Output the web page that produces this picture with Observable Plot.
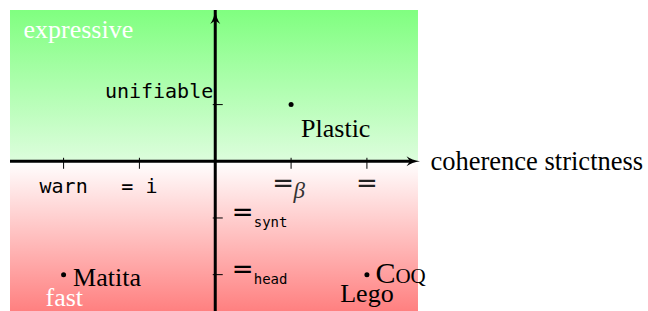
<!DOCTYPE html>
<html><head><meta charset="utf-8">
<script src="https://cdn.jsdelivr.net/npm/d3@7"></script>
<script src="https://cdn.jsdelivr.net/npm/@observablehq/plot@0.6"></script>
<style>body{margin:0;background:#fff}</style>
</head><body><div id="chart"></div>
<script>
// ---- data ----
const monoXTicks = [-2, -1];
const monoXLabels = ["warn", "= i"];
const eqXTicks = [1, 2];
const eqXSubs = ["β", ""];
const yTicks = [1, -1, -2];
const monoYTicks = [1];
const monoYLabels = ["unifiable"];
const eqYTicks = [-1, -2];
const eqYSubs = ["synt", "head"];
const systems = ["Plastic", "Matita", "Coq"];
const sysX = [1, -2, 2];
const sysY = [1, -2, -2];
const sysAlias = ["", "", "Lego"];
const regionLabels = ["expressive", "fast"];
const axisLabel = "coherence strictness";

const X_DOMAIN = [-2.7, 2.7];
const Y_DOMAIN = [-2.65, 2.66];
const xTicks = [...monoXTicks, ...eqXTicks];
const sysData = systems.map((name, i) => ({name, x: sysX[i], y: sysY[i], alias: sysAlias[i]}));
const eqX = eqXTicks.map((x, i) => ({x, sub: eqXSubs[i]}));
const eqY = eqYTicks.map((y, i) => ({y, sub: eqYSubs[i]}));

const stealth = {
  draw(ctx) {
    ctx.moveTo(0, 0);
    ctx.quadraticCurveTo(1.2, 8, 5, 13.5);
    ctx.lineTo(0, 10);
    ctx.lineTo(-5, 13.5);
    ctx.quadraticCurveTo(-1.2, 8, 0, 0);
    ctx.closePath();
  }
};

const SERIF = "Liberation Serif";
const MONO = "DejaVu Sans Mono";
const EQ = "DejaVu Sans";

const chart = Plot.plot({
  width: 648, height: 311, margin: 0,
  x: {domain: X_DOMAIN, range: [10, 419.5], axis: null},
  y: {domain: Y_DOMAIN, range: [311, 10], axis: null},
  style: {background: "white", overflow: "visible"},
  marks: [
    Plot.rect([0], {x1: X_DOMAIN[0], x2: X_DOMAIN[1] - 0.02, y1: 0, y2: Y_DOMAIN[1], fill: "url(#gGreen)"}),
    Plot.rect([0], {x1: X_DOMAIN[0], x2: X_DOMAIN[1] - 0.02, y1: Y_DOMAIN[0], y2: 0, fill: "url(#gRed)"}),
    // region labels
    Plot.text([regionLabels[0]], {x: X_DOMAIN[0], y: Y_DOMAIN[1], text: d => d, fill: "white", fontFamily: SERIF, fontSize: 26, textAnchor: "start", lineAnchor: "bottom", dx: 13, dy: 27}),
    Plot.text([regionLabels[1]], {x: X_DOMAIN[0], y: Y_DOMAIN[0], text: d => d, fill: "white", fontFamily: SERIF, fontSize: 26, textAnchor: "start", lineAnchor: "bottom", dx: 35, dy: -6}),
    // axes
    Plot.ruleX([0], {y1: Y_DOMAIN[0], y2: Y_DOMAIN[1], stroke: "black", strokeWidth: 3, insetTop: 8}),
    Plot.ruleY([0], {x1: X_DOMAIN[0], x2: X_DOMAIN[1], stroke: "black", strokeWidth: 3, insetRight: 8}),
    Plot.dot([0], {x: 0, y: Y_DOMAIN[1], symbol: stealth, r: 5, fill: "black", stroke: "none"}),
    Plot.dot([0], {x: X_DOMAIN[1], y: 0, symbol: stealth, r: 5, fill: "black", stroke: "none", rotate: 90}),
    // ticks
    Plot.ruleX(xTicks, {x: d => d, y1: 0, y2: 0, insetTop: -3, insetBottom: -8, stroke: "black", strokeWidth: 1}),
    Plot.ruleY(yTicks, {y: d => d, x1: 0, x2: 0, insetLeft: -2, insetRight: -8, stroke: "black", strokeWidth: 1}),
    // tick labels
    Plot.text(monoXTicks, {x: d => d, y: 0, text: (d, i) => monoXLabels[i], fontFamily: MONO, fontSize: 20, textAnchor: "middle", lineAnchor: "bottom", dy: 32, fill: "black"}),
    Plot.text(eqX.filter(d => d.sub), {x: "x", y: 0, text: () => "=", fontFamily: EQ, fontSize: 26, textAnchor: "middle", lineAnchor: "middle", dx: -8, dy: 22, fill: "#222"}),
    Plot.text(eqX.filter(d => d.sub), {x: "x", y: 0, text: "sub", fontFamily: SERIF, fontStyle: "italic", fontSize: 23, textAnchor: "start", lineAnchor: "bottom", dx: 2.5, dy: 37, fill: "#333"}),
    Plot.text(eqX.filter(d => !d.sub), {x: "x", y: 0, text: () => "=", fontFamily: EQ, fontSize: 26, textAnchor: "middle", lineAnchor: "middle", dx: 0, dy: 22, fill: "#222"}),
    Plot.text(monoYTicks, {x: 0, y: d => d, text: (d, i) => monoYLabels[i], fontFamily: MONO, fontSize: 20, textAnchor: "end", lineAnchor: "bottom", dx: -2, dy: -7, fill: "black"}),
    Plot.text(eqY, {x: 0, y: "y", text: () => "=", fontFamily: EQ, fontSize: 26, textAnchor: "start", lineAnchor: "middle", dx: 16.5, dy: -5, fill: "black"}),
    Plot.text(eqY, {x: 0, y: "y", text: "sub", fontFamily: MONO, fontSize: 14, textAnchor: "start", lineAnchor: "bottom", dx: 38.5, dy: 9, fill: "black"}),
    // systems
    Plot.dot(sysData, {x: "x", y: "y", r: 2.5, fill: "black", stroke: "none"}),
    Plot.text(sysData.filter(d => d.name === "Plastic"), {x: "x", y: "y", text: "name", fontFamily: SERIF, fontSize: 26, textAnchor: "start", lineAnchor: "bottom",
      dx: 10, dy: 32, fill: "black"}),
    Plot.text(sysData.filter(d => d.name === "Matita"), {x: "x", y: "y", text: "name", fontFamily: SERIF, fontSize: 26, textAnchor: "start", lineAnchor: "bottom",
      dx: 9.5, dy: 11, fill: "black"}),
    Plot.text(sysData.filter(d => d.name === "Coq"), {x: "x", y: "y", text: "name", fontFamily: SERIF, fontSize: 30, fontVariant: "small-caps", textAnchor: "start", lineAnchor: "bottom",
      dx: 8.5, dy: 8.5, fill: "black"}),
    Plot.text(sysData.filter(d => d.alias), {x: "x", y: "y", text: "alias", fontFamily: SERIF, fontSize: 26, textAnchor: "middle", lineAnchor: "bottom", dx: 0, dy: 27.5, fill: "black"}),
    // axis label
    Plot.text([axisLabel], {x: X_DOMAIN[1], y: 0, text: d => d, fontFamily: SERIF, fontSize: 26.5, textAnchor: "start", lineAnchor: "bottom", dx: 10.5, dy: 9, fill: "black"})
  ]
});

const ns = "http://www.w3.org/2000/svg";
const defs = document.createElementNS(ns, "defs");
defs.innerHTML = `
<linearGradient id="gGreen" x1="0" y1="0" x2="0" y2="1">
  <stop offset="0" stop-color="#80ff80"/><stop offset="1" stop-color="#dcfddc"/>
</linearGradient>
<linearGradient id="gRed" x1="0" y1="0" x2="0" y2="1">
  <stop offset="0" stop-color="#ffffff"/><stop offset="1" stop-color="#ff8080"/>
</linearGradient>`;
chart.prepend(defs);
document.getElementById("chart").appendChild(chart);
</script>
</body></html>
